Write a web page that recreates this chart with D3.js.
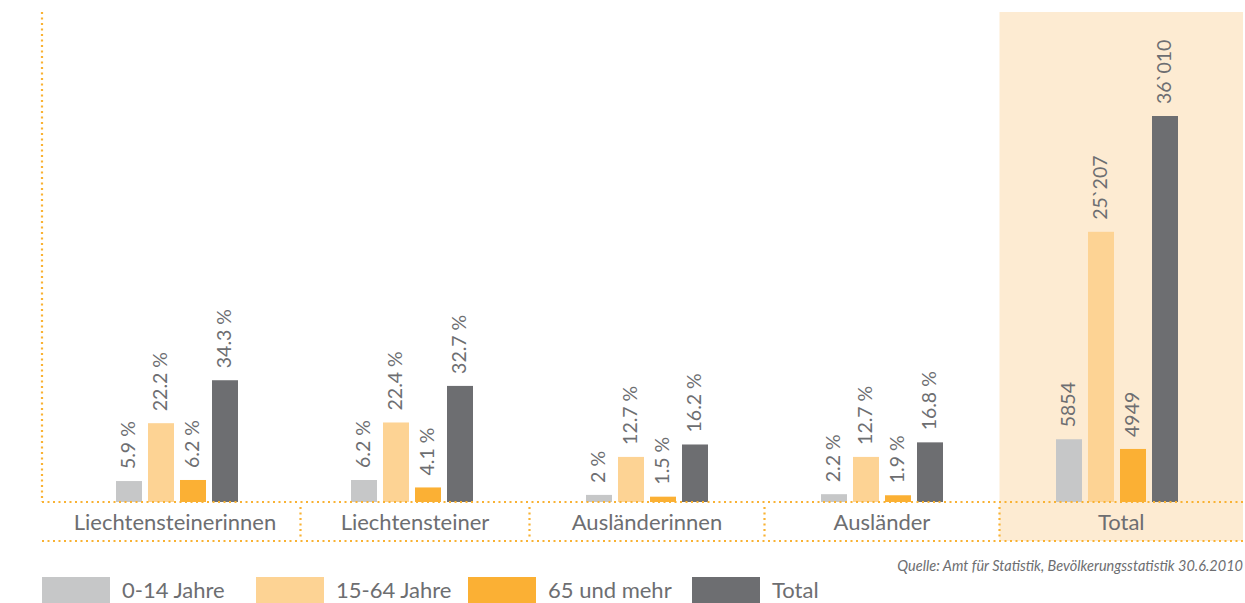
<!DOCTYPE html>
<html>
<head>
<meta charset="utf-8">
<script src="https://cdn.jsdelivr.net/npm/d3@7"></script>
<style>
  body { margin: 0; background: #fff; }
  svg { display: block; font-family: Lato, "Open Sans", sans-serif; }
</style>
</head>
<body>
<svg id="chart" width="1245" height="603"></svg>
<script>
// categories + series
const categories = ["Liechtensteinerinnen", "Liechtensteiner", "Ausländerinnen", "Ausländer", "Total"];
const series = ["0-14 Jahre", "15-64 Jahre", "65 und mehr", "Total"];
const colors = ["#c6c7c8", "#fdd394", "#fbb034", "#6d6e71"];

// shares in % (first four groups)
const youngPct = [5.9, 6.2, 2, 2.2];
const adultPct = [22.2, 22.4, 12.7, 12.7];
const oldPct = [6.2, 4.1, 1.5, 1.9];
const totalPct = [34.3, 32.7, 16.2, 16.8];

// absolute numbers (Total group)
const totalAbs = [5854, 25207, 4949, 36010];

const source = "Quelle: Amt für Statistik, Bevölkerungsstatistik 30.6.2010";

let svg = d3.select("#chart");
const orange = "#f9b233", textCol = "#6d6e71";
const baseY = 502, bottomY = 541, leftX = 42, rightX = 1245;

let x = d3.scalePoint().domain(categories).range([177, 1117]);
let xs = d3.scaleBand().domain(series).range([-64, 64]).paddingInner(0.1875).paddingOuter(0.09375);
let yPct = d3.scaleLinear().domain([0, 40]).range([baseY, baseY - 142]);
let yAbs = d3.scaleLinear().domain([0, 36010]).range([baseY, 116]);

// separators between categories
let step = x.step();
let seps = categories.slice(1).map(c => x(c) - step / 2);
seps[0] = seps[0] + 6; // first band is wider in the original

// Total background
svg.append("rect")
  .attr("x", seps[3]).attr("y", 12)
  .attr("width", 1243 - seps[3]).attr("height", bottomY - 12)
  .attr("fill", "#fdebd2");

let rows = categories.map(function(c, i) {
  if (i < 4) {
    return [youngPct[i], adultPct[i], oldPct[i], totalPct[i]].map((v, j) => ({cat: c, s: series[j], v: v, abs: false}));
  }
  return totalAbs.map((v, j) => ({cat: c, s: series[j], v: v, abs: true}));
});
let data = rows.flat();

function yOf(d) { return d.abs ? yAbs(d.v) : yPct(d.v); }
function fmt(d) {
  if (!d.abs) return d.v + " %";
  return d.v >= 10000 ? d3.format(",")(d.v).replace(",", "`") : String(d.v);
}

// bars
svg.append("g").selectAll("rect")
  .data(data).enter().append("rect")
  .attr("x", d => x(d.cat) + xs(d.s))
  .attr("y", d => yOf(d))
  .attr("width", xs.bandwidth())
  .attr("height", d => baseY - yOf(d))
  .attr("fill", d => colors[series.indexOf(d.s)]);

// value labels
svg.append("g").selectAll("text")
  .data(data).enter().append("text")
  .attr("transform", d => "translate(" + (x(d.cat) + xs(d.s) + xs.bandwidth() / 2 + 6) + "," + (yOf(d) - 12) + ") rotate(-90)")
  .attr("font-size", 19.5)
  .attr("fill", textCol)
  .text(fmt);

// dotted lines
let dots = svg.append("g").attr("stroke", orange).attr("stroke-width", 2.2).attr("stroke-dasharray", "2,3.5");
dots.append("line").attr("x1", leftX).attr("x2", leftX).attr("y1", 12).attr("y2", baseY);
dots.append("line").attr("x1", leftX).attr("x2", rightX).attr("y1", baseY).attr("y2", baseY);
dots.append("line").attr("x1", leftX).attr("x2", rightX).attr("y1", bottomY).attr("y2", bottomY);
dots.selectAll(".sep").data(seps).enter().append("line")
  .attr("class", "sep")
  .attr("x1", d => d).attr("x2", d => d)
  .attr("y1", baseY + 5).attr("y2", bottomY - 3);

// category labels
let bounds = [leftX].concat(seps, [1243]);
svg.append("g").selectAll("text")
  .data(categories).enter().append("text")
  .attr("x", (d, i) => (i === 0 ? x(d) - 2 : (bounds[i] + bounds[i + 1]) / 2))
  .attr("y", 530)
  .attr("text-anchor", "middle")
  .attr("font-size", 22)
  .attr("fill", textCol)
  .text(d => d);

// source
svg.append("text")
  .attr("x", 1243).attr("y", 571)
  .attr("text-anchor", "end")
  .attr("font-size", 14.5)
  .attr("font-style", "italic")
  .attr("fill", textCol)
  .text(source);

// legend
let legX = [42, 256, 468, 692];
let leg = svg.append("g").selectAll("g")
  .data(series).enter().append("g")
  .attr("transform", (d, i) => "translate(" + legX[i] + ",577)");
leg.append("rect").attr("width", 68).attr("height", 26).attr("fill", (d, i) => colors[i]);
leg.append("text")
  .attr("x", 80).attr("y", 21)
  .attr("font-size", 22)
  .attr("fill", textCol)
  .text(d => d);
</script>
</body>
</html>
